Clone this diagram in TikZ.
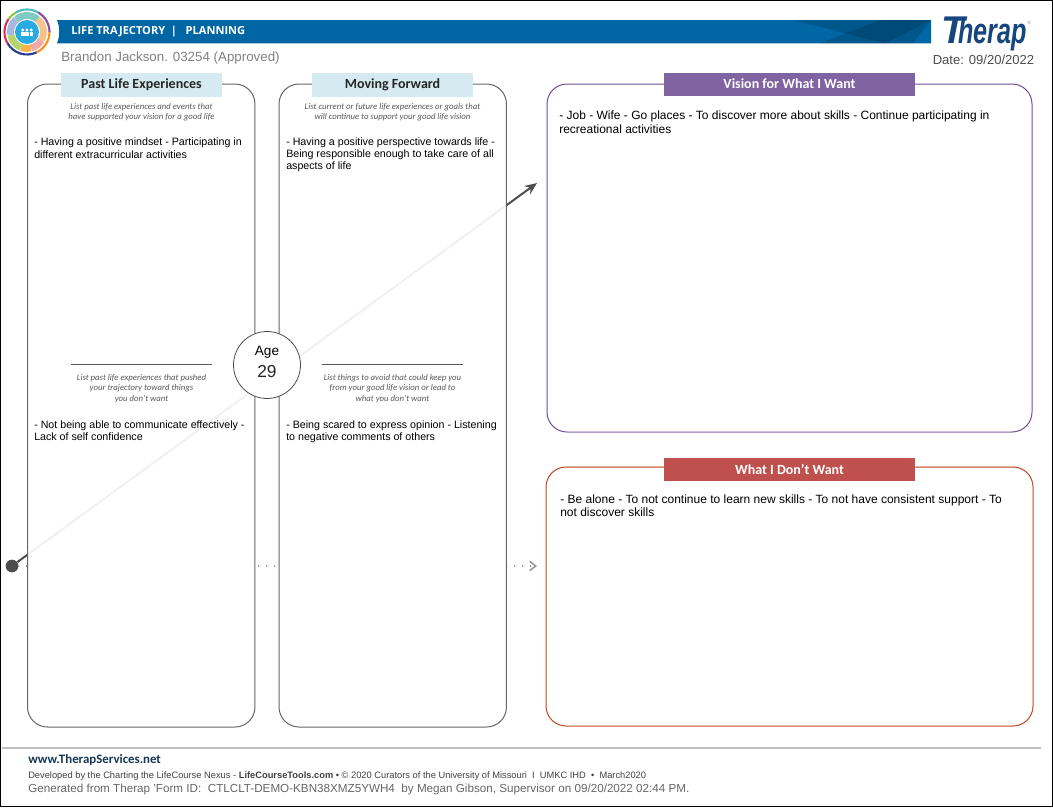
\documentclass[tikz,border=0pt]{standalone}
\usepackage{fontspec}
\setmainfont{Liberation Sans}
\newfontfamily\cali{Carlito}
\usepackage{xcolor}
\usetikzlibrary{arrows.meta, positioning, calc}
\definecolor{bandblue}{HTML}{0066A4}
\definecolor{logoblue}{HTML}{17467F}
\definecolor{palecyan}{HTML}{D6EAF1}
\definecolor{visionpurple}{HTML}{8064A2}
\definecolor{visionline}{HTML}{6F4F9A}
\definecolor{dontred}{HTML}{C0504D}
\definecolor{dontline}{HTML}{C0471F}
\definecolor{inkgray}{HTML}{4D4D4D}
\definecolor{footblue}{HTML}{143755}
\definecolor{hubblue}{HTML}{29ABE2}

\begin{document}
\begin{tikzpicture}[x = 0.75pt, y = -0.75pt,
    panel/.style = {draw = #1, fill = white, fill opacity = 0.92, rounded corners = 15pt, line width = 0.75pt, inner sep = 0pt},
    panel/.default = {black!60},
    headbox/.style = {fill = palecyan, minimum width = 120.75pt, minimum height = 18pt, inner sep = 0pt, font = \cali\bfseries\fontsize{10.5}{12}\selectfont, text = black!85},
    colorbox/.style = {fill = #1, minimum width = 188.25pt, minimum height = 17.25pt, inner sep = 0pt, font = \cali\bfseries\fontsize{10.5}{12}\selectfont, text = white},
    prompt/.style = {align = center, inner sep = 0pt, text = black!65, font = \cali\itshape\fontsize{6.55}{7.9}\selectfont},
    body/.style = {anchor = north west, align = left, inner sep = 0pt, text = black, font = \fontsize{8}{#1}\selectfont},
    body/.default = {9.4},
    widebody/.style = {anchor = north west, align = left, inner sep = 0pt, text = black, font = \fontsize{9}{10}\selectfont},
    footline/.style = {anchor = west, inner sep = 0pt}]
    % Parametri
    \pgfmathsetmacro{\logox}{27}
    \pgfmathsetmacro{\logoy}{32}
    \path[use as bounding box] (0,0) rectangle (1053,807);

    % Cornice
    \draw[black, line width = 1.2pt] (0.5,0.5) rectangle (1052.5,806.5);

    % Logo
    \foreach \a/\b/\c in {-120/-60/4CB8C4, -60/0/8A4F9E, 0/65/F7941D, 65/150/2B3990, 150/215/D9345F, 215/240/8CC63F} {
        \definecolor{arcshade}{HTML}{\c}
        \draw[line width = 1.6pt, arcshade] (\logox,\logoy) ++(\a:22.5) arc (\a:\b:22.5);
    };
    \foreach \a/\b/\c in {-130/-50/7FCBC4, -50/30/F6C48B, 30/75/EFA9A6, 75/110/F7B24A, 110/170/B5D56A, 170/230/A9B8DE} {
        \definecolor{arcshade}{HTML}{\c}
        \draw[line width = 5.2pt, arcshade] (\logox,\logoy) ++(\a:16.5) arc (\a:\b:16.5);
    };
    \fill[hubblue] (\logox,\logoy) circle (12);
    \foreach \dx in {-4.2,0,4.2} {
        \fill[white] (\logox+\dx,\logoy-2) circle (1.6);
        \fill[white] (\logox+\dx-1.7,\logoy+3.5) rectangle (\logox+\dx+1.7,\logoy);
    };

    % Banda
    \fill[bandblue] (57,20) -- (931,20) -- (931,43.3) -- (57,43.3) .. controls (60,36) and (60,27) .. (57,20);
    \fill[black, opacity = 0.14] (793,20) -- (885,43.3) -- (931,20) -- cycle;
    \fill[black, opacity = 0.14] (820,43.3) -- (880,20) -- (931,20) -- (913,43.3) -- cycle;
    \node[anchor = west, inner sep = 0pt, text = white, font = \fontspec{Open Sans}\bfseries\fontsize{8.3}{9}\selectfont] (bandtext) at (71,32) {LIFE TRAJECTORY~~|~~~PLANNING};
    \node[anchor = west, inner sep = 0pt, text = black!50, font = \fontsize{10}{12}\selectfont] (person) at (61,58) {Brandon Jackson. 03254 (Approved)};
    \node[anchor = east, inner sep = 0pt, text = black!70, font = \fontsize{9.8}{12}\selectfont] (datetext) at (1034.5,59.5) {Date: 09/20/2022};
    \node[anchor = base west, inner sep = 0pt, text = logoblue, font = \bfseries\itshape] (therap) at (941,43) {\fontsize{29}{30}\selectfont T\kern-5pt\scalebox{0.7}[1]{\fontsize{27}{28}\selectfont herap}};
    \node[inner sep = 0pt, text = black!45, font = \fontsize{3.5}{4}\selectfont] (regmark) at (1029,23) {®};

    % Traiettoria
    \node[circle, fill = inkgray, minimum size = 9.5pt, inner sep = 0pt] (startdot) at (12,566) {};
    \coordinate (visiontip) at (537,183);
    \coordinate (dontip) at (537,566);
    \draw[black!40, line width = 1.2pt, line cap = round, dash pattern = on 0.1pt off 5.9pt, shorten >= 2pt] (startdot) -- (dontip);
    \draw[black!40, -{Straight Barb[length = 4.5pt, width = 7pt]}, line width = 1.2pt] ($(dontip)+(-3,0)$) -- (dontip);
    \draw[inkgray, line width = 1.5pt, -{Stealth[length = 9pt, width = 7.5pt]}] (startdot) -- (visiontip);

    % Riquadri
    \node[panel, minimum width = 170.6pt, minimum height = 482.25pt] (past) at (141.25,405.5) {};
    \node[panel, minimum width = 170.6pt, minimum height = 482.25pt] (forward) at (392.75,405.5) {};
    \node[panel = visionline, minimum width = 363.75pt, minimum height = 261pt] (vision) at (789.5,258) {};
    \node[panel = dontline, minimum width = 365.25pt, minimum height = 194.25pt] (dont) at (789.5,596.5) {};

    % Titoli
    \node[headbox] (pasttitle) at (141.5,84.5) {Past Life Experiences};
    \node[headbox] (forwardtitle) at (392.5,84.5) {Moving Forward};
    \node[colorbox = visionpurple] (visiontitle) at (789.5,84) {Vision for What I Want};
    \node[colorbox = dontred] (donttitle) at (789.5,469) {What I Don’t Want};

    % Bordi chiari
    \draw[white!55!dontline, line width = 1pt] ($(dont.north west)+(20,0)$) -- (donttitle.west |- dont.north);
    \draw[white!55!dontline, line width = 1pt] (donttitle.east |- dont.north) -- ($(dont.north east)+(-20,0)$);
    \draw[white!45!visionline, line width = 1pt] ($(vision.south west)+(20,0)$) -- ($(vision.south east)+(-20,0)$);

    % Eta
    \node[circle, draw = black!70, fill = white, line width = 0.6pt, minimum size = 50.25pt, inner sep = 0pt] (agecircle) at (267,365) {};
    \node[inner sep = 0pt, font = \fontsize{10.2}{12}\selectfont] (agelabel) at (267,352.5) {Age};
    \node[inner sep = 0pt, text = black!85, font = \fontsize{13}{14}\selectfont] (agevalue) at (267,371.5) {29};

    % Indicazioni
    \node[prompt] (pastup) at (141.5,112) {List past life experiences and events that\\have supported your vision for a good life};
    \node[prompt] (forwardup) at (392.5,112) {List current or future life experiences or goals that\\will continue to support your good life vision};
    \node[prompt] (pastdown) at (141.5,388.5) {List past life experiences that pushed\\your trajectory toward things\\you don’t want};
    \node[prompt] (forwarddown) at (392.5,388.5) {List things to avoid that could keep you\\from your good life vision or lead to\\what you don’t want};
    \coordinate (pastruleL) at (71,364);
    \coordinate (pastruleR) at (212,364);
    \coordinate (forwardruleL) at (322,364);
    \coordinate (forwardruleR) at (463,364);
    \draw[black!65, line width = 0.6pt] (pastruleL) -- (pastruleR);
    \draw[black!65, line width = 0.6pt] (forwardruleL) -- (forwardruleR);

    % Testi
    \node[body = 9.75] (pasttext) at (34,138) {- Having a positive mindset - Participating in\\different extracurricular activities};
    \node[body = 9] (forwardtext) at (286,138) {- Having a positive perspective towards life -\\Being responsible enough to take care of all\\aspects of life};
    \node[body = 9] (pastbad) at (34,420.5) {- Not being able to communicate effectively -\\Lack of self confidence};
    \node[body = 9.2] (forwardbad) at (286,420.5) {- Being scared to express opinion - Listening\\to negative comments of others};
    \node[widebody] (visiontext) at (559,111) {- Job - Wife - Go places - To discover more about skills - Continue participating in\\recreational activities};
    \node[widebody] (donttext) at (560,494.5) {- Be alone - To not continue to learn new skills - To not have consistent support - To\\not discover skills};

    % Piede
    \coordinate (footL) at (2,748);
    \coordinate (footR) at (1041,748);
    \draw[black!25, line width = 0.8pt] (footL) -- (footR);
    \node[footline, text = footblue, font = \cali\bfseries\fontsize{9.65}{11}\selectfont] (website) at (28,760) {www.TherapServices.net};
    \node[footline, text = black!75, font = \fontsize{6.98}{8}\selectfont] (credits) at (28,776.5) {Developed by the Charting the LifeCourse Nexus - \textbf{LifeCourseTools.com} • © 2020 Curators of the University of Missouri~ I~ UMKC IHD ~•~ March2020};
    \node[footline, text = black!60, font = \fontsize{8.75}{9}\selectfont] (generated) at (28,789) {Generated from Therap 'Form ID:~ CTLCLT-DEMO-KBN38XMZ5YWH4~ by Megan Gibson, Supervisor on 09/20/2022 02:44 PM.};
\end{tikzpicture}
\end{document}
